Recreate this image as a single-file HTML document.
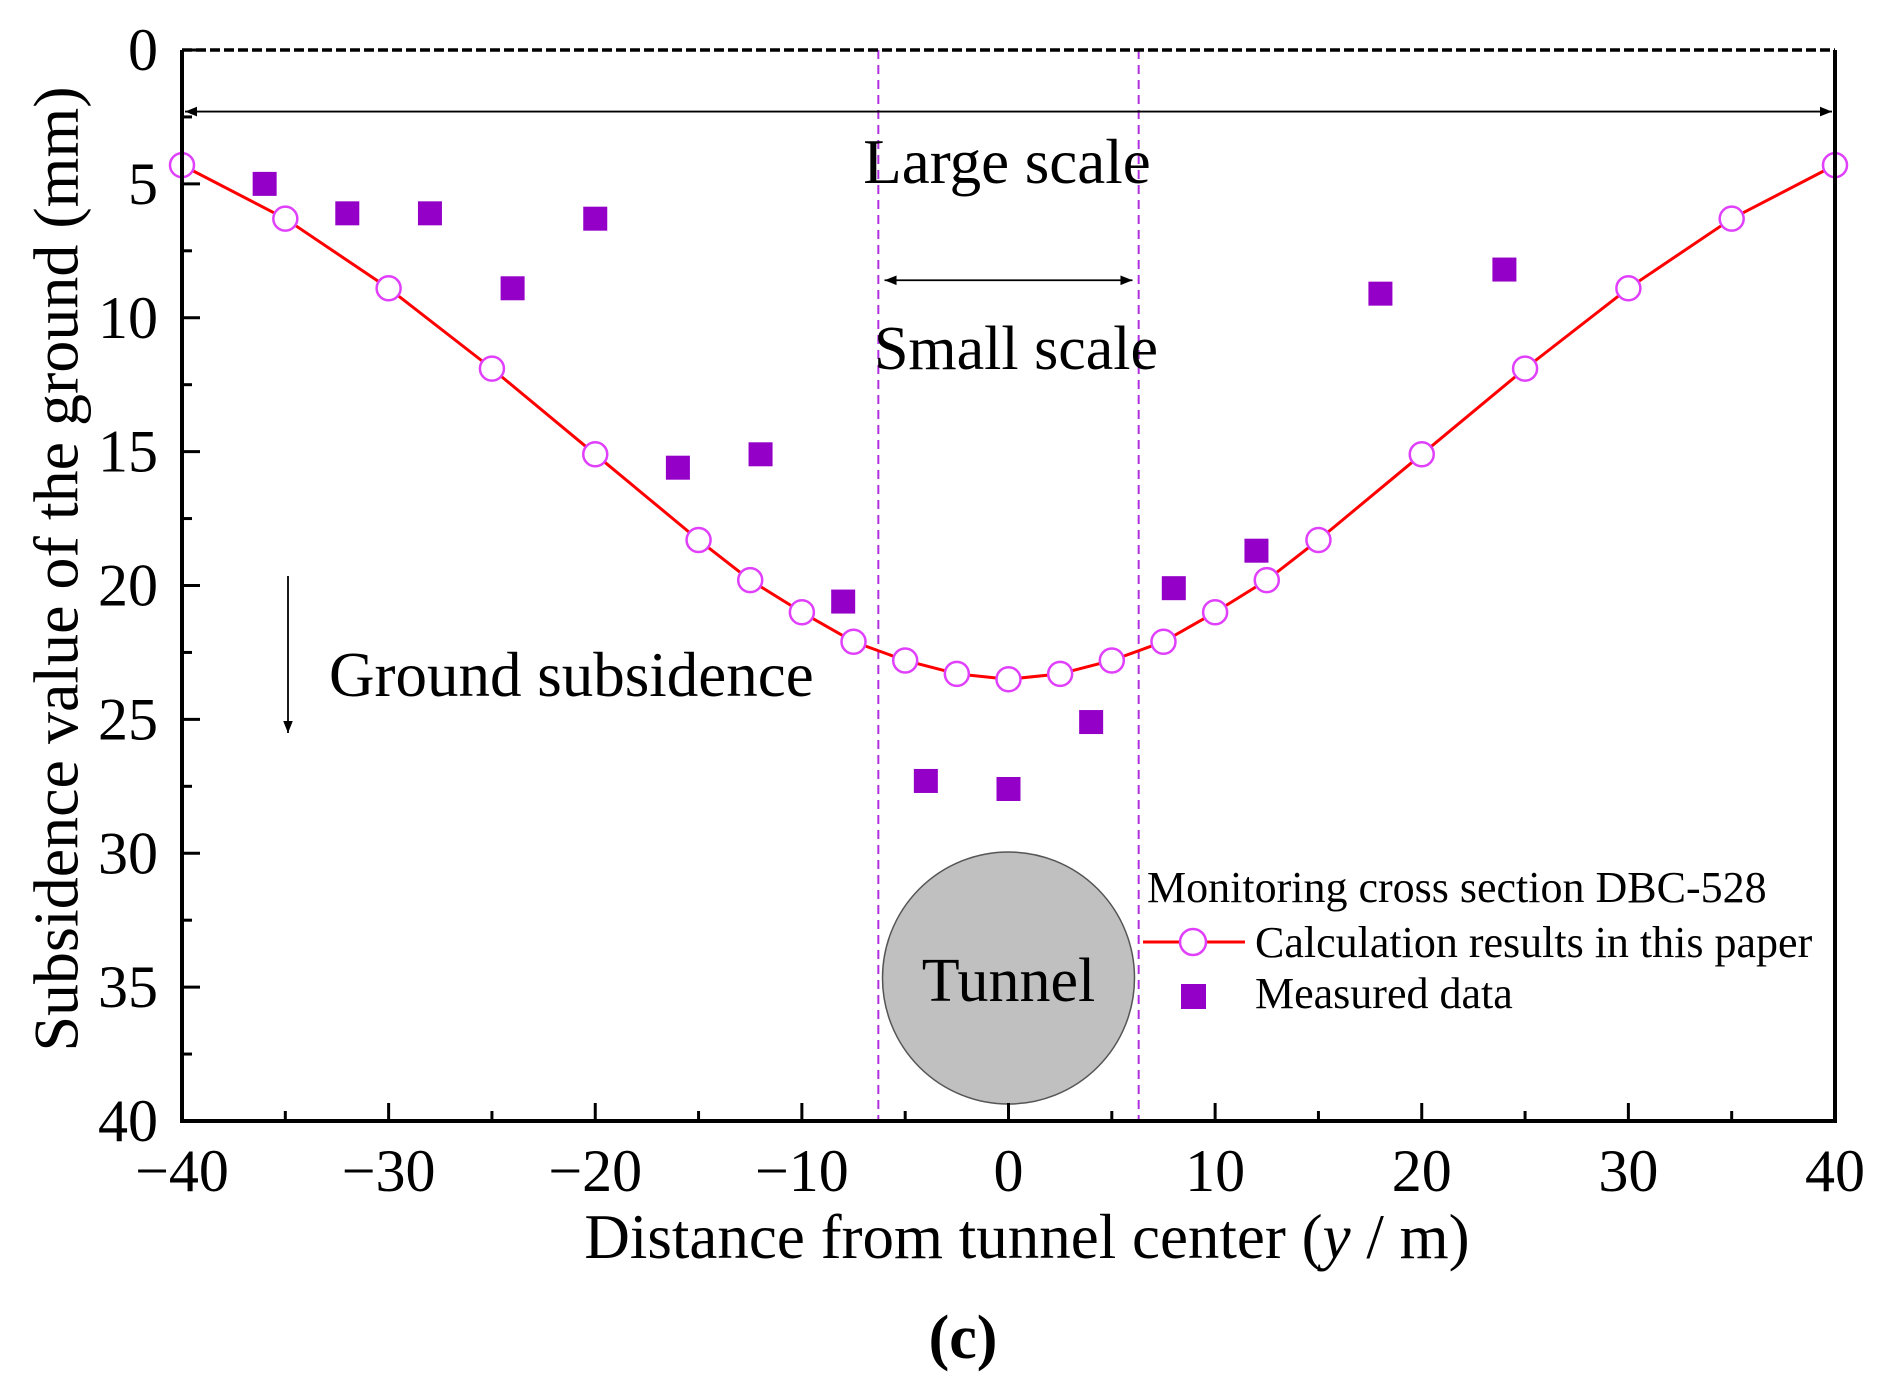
<!DOCTYPE html>
<html><head><meta charset="utf-8"><style>
html,body{margin:0;padding:0;background:#fff;}
svg{display:block;font-family:"Liberation Serif",serif;}
</style></head><body>
<svg id="chart" width="1895" height="1382" viewBox="0 0 1895 1382">
<defs>
<marker id="ah" viewBox="0 0 10 10" refX="10" refY="5" markerWidth="20" markerHeight="12" markerUnits="userSpaceOnUse" orient="auto-start-reverse"><path d="M0,1 L10,5 L0,9 z" fill="#000"/></marker>
</defs>
<g id="annot"></g>
<g id="marks"></g>
<g id="axes"></g>
<text x="63" y="569" font-size="64" text-anchor="middle" transform="rotate(-90 63 569)" dominant-baseline="middle">Subsidence value of the ground (mm)</text>
<text x="1027" y="1258" font-size="63" text-anchor="middle">Distance from tunnel center (<tspan font-style="italic">y</tspan> / m)</text>
<text x="963" y="1358" font-size="62" font-weight="bold" text-anchor="middle">(c)</text>
<g>
<text x="1147" y="902" font-size="44">Monitoring cross section DBC-528</text>
<line x1="1143" y1="942" x2="1245" y2="942" stroke="#f00" stroke-width="3"/>
<circle cx="1193" cy="942" r="13" fill="#fff" stroke="#e040fb" stroke-width="2.5"/>
<text x="1255" y="957" font-size="44">Calculation results in this paper</text>
<rect x="1181" y="984" width="25" height="25" fill="#9400c8"/>
<text x="1255" y="1008" font-size="44">Measured data</text>
</g>
</svg>
<script>
const calcX = [-40,-35,-30,-25,-20,-15,-12.5,-10,-7.5,-5,-2.5,0,2.5,5,7.5,10,12.5,15,20,25,30,35,40];
const calcY = [4.3,6.3,8.9,11.9,15.1,18.3,19.8,21.0,22.1,22.8,23.3,23.5,23.3,22.8,22.1,21.0,19.8,18.3,15.1,11.9,8.9,6.3,4.3];
const measX = [-36,-32,-28,-24,-20,-16,-12,-8,-4,0,4,8,12,18,24];
const measY = [5.0,6.1,6.1,8.9,6.3,15.6,15.1,20.6,27.3,27.6,25.1,20.1,18.7,9.1,8.2];
const xTicks = [-40,-30,-20,-10,0,10,20,30,40];
const xTickLabels = ["\u221240","\u221230","\u221220","\u221210","0","10","20","30","40"];
const yTicks = [0,5,10,15,20,25,30,35,40];
const yTickLabels = ["0","5","10","15","20","25","30","35","40"];

const X0=182,X1=1835,Y0=50,Y1=1121;
const sx = v => X0 + (v+40)/80*(X1-X0);
const sy = v => Y0 + v/40*(Y1-Y0);
const NS="http://www.w3.org/2000/svg";
function mk(tag, parent, attrs){const e=document.createElementNS(NS,tag);for(const k in attrs)e.setAttribute(k,attrs[k]);parent.appendChild(e);return e;}
const axes=document.getElementById('axes'), marks=document.getElementById('marks'), annot=document.getElementById('annot');

let e;
e=mk('line',annot,{x1:sx(-6.3),y1:Y0,x2:sx(-6.3),y2:Y1,stroke:'#b030e0','stroke-width':2,'stroke-dasharray':'9,6'});


e=mk('line',annot,{x1:sx(6.3),y1:Y0,x2:sx(6.3),y2:Y1,stroke:'#b030e0','stroke-width':2,'stroke-dasharray':'9,6'});


e=mk('line',annot,{x1:sx(-40)+3,y1:sy(2.3),x2:sx(40)-3,y2:sy(2.3),stroke:'#000','stroke-width':1.8,'marker-start':'url(#ah)','marker-end':'url(#ah)'});


e=mk('line',annot,{x1:sx(-6),y1:sy(8.6),x2:sx(6),y2:sy(8.6),stroke:'#000','stroke-width':1.8,'marker-start':'url(#ah)','marker-end':'url(#ah)'});


e=mk('text',annot,{x:1007,y:183,'font-size':63,'text-anchor':'middle'});e.textContent='Large scale';


e=mk('text',annot,{x:1016,y:369,'font-size':62,'text-anchor':'middle'});e.textContent='Small scale';


e=mk('line',annot,{x1:288,y1:576,x2:288,y2:733,stroke:'#000','stroke-width':1.8,'marker-end':'url(#ah)'});


e=mk('text',annot,{x:329,y:696,'font-size':63});e.textContent='Ground subsidence';


e=mk('circle',annot,{cx:sx(0),cy:978,r:126,fill:'#c0c0c0',stroke:'#555','stroke-width':1.5});


e=mk('text',annot,{x:sx(0),y:1001,'font-size':62,'text-anchor':'middle'});e.textContent='Tunnel';



e=mk('polyline',marks,{points:calcX.map((x,i)=>sx(x)+','+sy(calcY[i])).join(' '),fill:'none',stroke:'#f00','stroke-width':3,'stroke-linejoin':'round'});


calcX.forEach((x,i)=>{const c=mk('circle',marks,{cx:sx(x),cy:sy(calcY[i]),r:12,fill:'#fff',stroke:'#e040fb','stroke-width':2.5});

});
measX.forEach((x,i)=>{const r=mk('rect',marks,{x:sx(x)-12,y:sy(measY[i])-12,width:24,height:24,fill:'#9400c8'});

});

e=mk('line',axes,{x1:X0,y1:Y0,x2:X1,y2:Y0,stroke:'#000','stroke-width':3.5,'stroke-dasharray':'10,4'});


e=mk('path',axes,{d:`M${X0},${Y0} L${X0},${Y1} L${X1},${Y1} L${X1},${Y0}`,fill:'none',stroke:'#000','stroke-width':4});


xTicks.forEach((v,i)=>{
  const t=mk('line',axes,{x1:sx(v),y1:Y1,x2:sx(v),y2:Y1-18,stroke:'#000','stroke-width':3});
  
  
  if(i<xTicks.length-1){const m=mk('line',axes,{x1:sx(v+5),y1:Y1,x2:sx(v+5),y2:Y1-10,stroke:'#000','stroke-width':3});
  
  }
  const l=mk('text',axes,{x:sx(v),y:1191,'font-size':60,'text-anchor':'middle'});l.textContent=xTickLabels[i];
  
  
});
yTicks.forEach((v,i)=>{
  const t=mk('line',axes,{x1:X0,y1:sy(v),x2:X0+18,y2:sy(v),stroke:'#000','stroke-width':3});
  
  
  if(i<yTicks.length-1){const m=mk('line',axes,{x1:X0,y1:sy(v+2.5),x2:X0+10,y2:sy(v+2.5),stroke:'#000','stroke-width':3});
  
  }
  const l=mk('text',axes,{x:158,y:sy(v)+20,'font-size':60,'text-anchor':'end'});l.textContent=yTickLabels[i];
  
  
});
</script>
</body></html>
